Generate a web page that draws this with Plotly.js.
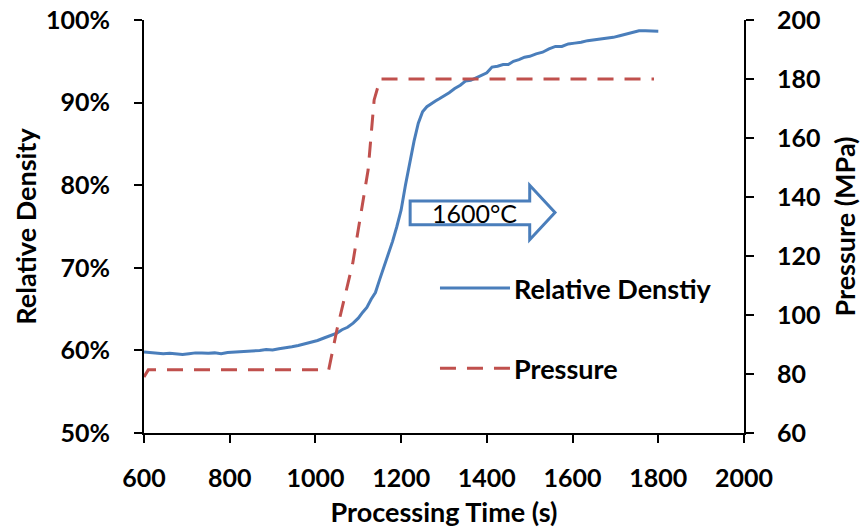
<!DOCTYPE html>
<html>
<head>
<meta charset="utf-8">
<script src="https://cdn.plot.ly/plotly-3.0.1.min.js"></script>
<style>html,body{margin:0;padding:0;background:#fff;}#chart{width:861px;height:531px;}</style>
</head>
<body>
<div id="chart"></div>
<script>
// Relative density (%) vs processing time (s)
const densityTime = [600,615,630,645,660,675,690,705,720,735,750,765,780,795,810,825,840,855,870,885,900,915,930,945,960,975,990,1005,1020,1035,1050,1062,1075,1088,1100,1110,1120,1130,1140,1150,1160,1170,1180,1190,1200,1210,1220,1230,1240,1250,1260,1270,1280,1290,1300,1312,1325,1338,1350,1362,1375,1388,1400,1412,1425,1438,1450,1462,1475,1488,1500,1515,1530,1545,1560,1575,1590,1605,1620,1635,1650,1665,1680,1695,1710,1725,1740,1755,1770,1785,1800];
const densityValue = [59.8,59.75,59.7,59.6,59.65,59.55,59.5,59.6,59.7,59.7,59.65,59.7,59.6,59.75,59.8,59.8,59.9,59.95,60.0,60.1,60.05,60.2,60.3,60.45,60.6,60.8,61.0,61.2,61.5,61.8,62.1,62.5,62.8,63.3,63.9,64.6,65.2,66.2,67.0,68.6,70.1,71.6,73.2,75.0,77.0,80.0,82.7,85.3,87.5,88.9,89.5,89.9,90.2,90.5,90.8,91.2,91.7,92.1,92.6,92.7,93.0,93.3,93.6,94.3,94.4,94.6,94.6,95.0,95.2,95.5,95.6,95.9,96.1,96.5,96.8,96.8,97.1,97.2,97.3,97.5,97.6,97.7,97.8,97.9,98.1,98.3,98.5,98.7,98.7,98.65,98.65];

// Pressure (MPa) vs processing time (s)
const pressureTime = [600,610,1031,1050,1087,1123,1137,1151,1790];
const pressureValue = [79,81.4,81.4,94.9,117.5,149.2,172.9,180,180];

const seriesNames = ["Relative Denstiy", "Pressure"];
const annotationText = "1600°C";
const xTitle = "Processing Time (s)";
const yTitle = "Relative Density";
const y2Title = "Pressure (MPa)";

const BLUE = "#4A7EBB", RED = "#C0504D", INK = "#000000";
const FONT = "Lato, 'Open Sans', sans-serif";
const tickFont = {family: FONT, size: 25, color: INK, weight: "bold"};
const titleFont = {family: FONT, size: 27, color: INK, weight: "bold"};

const traces = [
  {x: densityTime, y: densityValue, type: "scatter", mode: "lines", name: seriesNames[0],
   line: {color: BLUE, width: 3}, yaxis: "y", showlegend: false},
  {x: pressureTime, y: pressureValue, type: "scatter", mode: "lines", name: seriesNames[1],
   line: {color: RED, width: 3, dash: "16px,11px"}, yaxis: "y2", showlegend: false}
];

const axisCommon = {
  showgrid: false, zeroline: false, showline: true, linecolor: INK, linewidth: 2,
  ticks: "outside", ticklen: 8, tickwidth: 2, tickcolor: INK,
  tickfont: tickFont
};

const layout = {
  width: 861, height: 531,
  margin: {l: 144, r: 117, t: 20, b: 98},
  paper_bgcolor: "#fff", plot_bgcolor: "#fff",
  font: {family: FONT, color: INK},
  showlegend: false,
  xaxis: Object.assign({}, axisCommon, {
    range: [600, 2000], dtick: 200, tick0: 600,
    ticklabelstandoff: 14,
    title: {text: xTitle, standoff: 12, font: titleFont}
  }),
  yaxis: Object.assign({}, axisCommon, {
    range: [50, 100], dtick: 10, ticksuffix: "%",
    ticklabelstandoff: 19,
    title: {text: yTitle, standoff: 2, font: titleFont}
  }),
  yaxis2: Object.assign({}, axisCommon, {
    range: [60, 200], dtick: 20, overlaying: "y", side: "right",
    ticklabelstandoff: 18,
    title: {text: y2Title, standoff: 17, font: titleFont}
  }),
  shapes: [
    {type: "path", xref: "x", yref: "y", layer: "above",
     path: "M1221,78.1 L1500,78.1 L1500,80.0 L1559,76.7 L1500,73.4 L1500,75.2 L1221,75.2 Z",
     line: {color: BLUE, width: 3}, fillcolor: "#ffffff"},
    {type: "line", xref: "paper", yref: "paper", x0: 0.4933, x1: 0.61, y0: 0.351, y1: 0.351,
     line: {color: BLUE, width: 3}},
    {type: "line", xref: "paper", yref: "paper", x0: 0.4933, x1: 0.61, y0: 0.157, y1: 0.157,
     line: {color: RED, width: 3, dash: "16px,11px"}}
  ],
  annotations: [
    {text: annotationText, xref: "x", yref: "y", x: 1372, y: 76.6, showarrow: false,
     font: {family: FONT, size: 25, color: INK}},
    {text: seriesNames[0], xref: "paper", yref: "paper", x: 0.614, y: 0.351, xanchor: "left", yanchor: "middle",
     showarrow: false, font: titleFont},
    {text: seriesNames[1], xref: "paper", yref: "paper", x: 0.614, y: 0.157, xanchor: "left", yanchor: "middle",
     showarrow: false, font: titleFont}
  ]
};

Plotly.newPlot("chart", traces, layout, {staticPlot: true, displayModeBar: false});
</script>
</body>
</html>
